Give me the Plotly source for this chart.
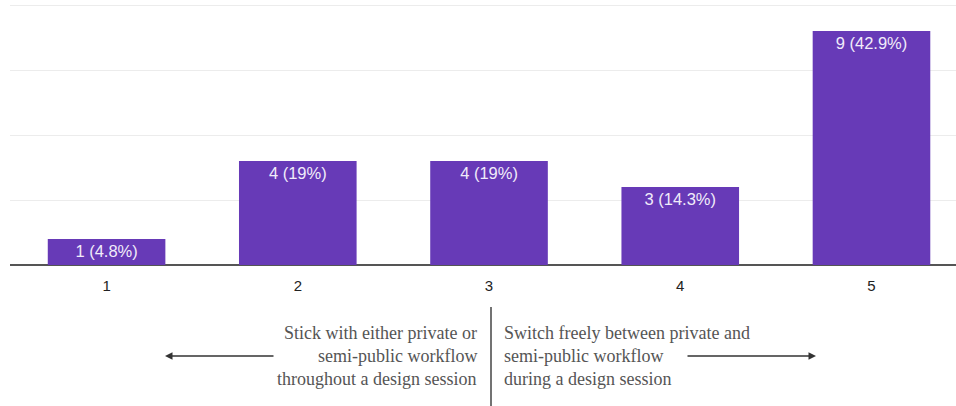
import plotly.graph_objects as go

categories = [1, 2, 3, 4, 5]
counts = [1, 4, 4, 3, 9]
percent_labels = ["4.8%", "19%", "19%", "14.3%", "42.9%"]
tick_labels = ["1", "2", "3", "4", "5"]
left_lines = ["Stick with either private or", "semi-public workflow", "throughout a design session"]
right_lines = ["Switch freely between private and", "semi-public workflow", "during a design session"]

W, H = 956, 406
ML, MR, MT, MB = 10, 0, 4, 141
PW, PH = W - ML - MR, H - MT - MB

def px(x):
    return (x - ML) / PW

def py(y):
    return (H - MB - y) / PH

bar_text = [f"{c} ({p})" for c, p in zip(counts, percent_labels)]

fig = go.Figure(go.Bar(
    x=categories, y=counts, text=bar_text,
    textposition="inside", insidetextanchor="end",
    textfont=dict(color="#f1ecfa", size=16.5, family="Liberation Sans, Arial"),
    marker=dict(color="#673ab7", line=dict(width=0)),
    width=0.615, textangle=0, cliponaxis=False,
))

fig.update_layout(
    width=W, height=H, margin=dict(l=ML, r=MR, t=MT, b=MB),
    plot_bgcolor="white", paper_bgcolor="white", showlegend=False,
    uniformtext=dict(minsize=8, mode="show"),
    xaxis=dict(range=[0.495, 5.442], tickvals=categories, ticktext=tick_labels,
               showgrid=False, zeroline=False, ticks="outside", ticklen=7,
               tickcolor="rgba(0,0,0,0)", showline=False,
               tickfont=dict(size=15, color="#222", family="Liberation Sans, Arial")),
    yaxis=dict(range=[0, 10.04], tickvals=[0, 2.5, 5, 7.5, 10], showticklabels=False,
               showgrid=True, gridcolor="#ececec", gridwidth=1, zeroline=True,
               zerolinecolor="#555", zerolinewidth=1.5),
)

serif = dict(family="Liberation Serif, Times New Roman", size=18, color="#555")
line_ys = [333, 356, 379]
for txt, yy in zip(left_lines, line_ys):
    fig.add_annotation(x=px(479), y=py(yy), xref="paper", yref="paper", text=txt,
                       showarrow=False, xanchor="right", yanchor="middle", font=serif)
for txt, yy in zip(right_lines, line_ys):
    fig.add_annotation(x=px(502), y=py(yy), xref="paper", yref="paper", text=txt,
                       showarrow=False, xanchor="left", yanchor="middle", font=serif)

# arrows
fig.add_annotation(x=px(165), y=py(356), xref="paper", yref="paper", text="",
                   showarrow=True, ax=110, ay=0, arrowhead=2, arrowsize=1,
                   arrowwidth=1.5, arrowcolor="#333")
fig.add_annotation(x=px(816), y=py(356), xref="paper", yref="paper", text="",
                   showarrow=True, ax=-130, ay=0, arrowhead=2, arrowsize=1,
                   arrowwidth=1.5, arrowcolor="#333")

fig.add_shape(type="line", xref="paper", yref="paper",
              x0=px(491), x1=px(491), y0=py(307), y1=py(406),
              line=dict(color="#444", width=1.5))

fig.write_html("out.html")
